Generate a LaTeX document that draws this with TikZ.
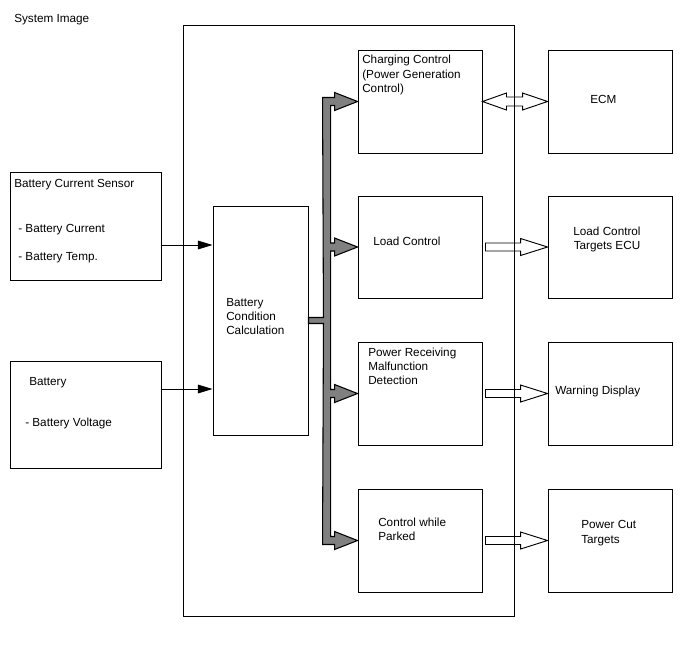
\documentclass[tikz,border=0pt]{standalone}
\usepackage{fontspec}
\setmainfont{Liberation Sans}
\usetikzlibrary{arrows.meta,calc,fit}
\begin{document}
\begin{tikzpicture}[x=0.75pt,y=-0.75pt,
  box/.style={draw=black,line width=0.7pt,inner sep=0pt,rectangle},
  lbl/.style={anchor=base west,inner sep=0pt,font=\fontsize{8.8}{10}\selectfont},
  clbl/.style={anchor=base,inner sep=0pt,font=\fontsize{8.8}{10}\selectfont},
  thinarrow/.style={line width=0.7pt,-{Triangle[length=11pt,width=6.5pt]}},
  hollow/.style={draw=black,line width=0.7pt,fill=none,line join=miter},
  bus/.style={draw=black,line width=0.8pt,fill=black!50,line join=miter}]
\useasboundingbox (0,0) rectangle (688,658);
\node[lbl] (title) at (14,22) {System Image};
% frame
\node[box,fit={(183,25) (514,616)}] (frame) {};
% left boxes
\node[box,fit={(10,172) (161,280)}] (bcs) {};
\node[box,fit={(10,361) (161,468)}] (bat) {};
\node[box,fit={(213,206) (308,435)}] (bcc) {};
% middle boxes
\node[box,fit={(358,50) (482,153)}] (cc) {};
\node[box,fit={(358,196) (482,298)}] (lc) {};
\node[box,fit={(358,342) (482,445)}] (pr) {};
\node[box,fit={(358,489) (482,592)}] (cp) {};
% right boxes
\node[box,fit={(548,50) (672,153)}] (ecm) {};
\node[box,fit={(548,196) (672,298)}] (lt) {};
\node[box,fit={(548,342) (672,445)}] (wd) {};
\node[box,fit={(548,489) (672,592)}] (pc) {};
% texts
\node[lbl] (bcs1) at (14,187) {Battery Current Sensor};
\node[lbl] (bcs2) at (18,232) {- Battery Current};
\node[lbl] (bcs3) at (18,260) {- Battery Temp.};
\node[lbl] (bat1) at (29,385) {Battery};
\node[lbl] (bat2) at (25,426) {- Battery Voltage};
\node[lbl] (bcc1) at (226,306) {Battery};
\node[lbl] (bcc2) at (226,320) {Condition};
\node[lbl] (bcc3) at (226,334) {Calculation};
\node[lbl] (cc1) at (362,63) {Charging Control};
\node[lbl] (cc2) at (362,78) {(Power Generation};
\node[lbl] (cc3) at (362,92) {Control)};
\node[lbl] (lc1) at (373,245) {Load Control};
\node[lbl] (pr1) at (368,356) {Power Receiving};
\node[lbl] (pr2) at (368,370) {Malfunction};
\node[lbl] (pr3) at (368,384) {Detection};
\node[lbl] (cp1) at (378,526) {Control while};
\node[lbl] (cp2) at (378,540) {Parked};
\node[lbl] (ecm1) at (590,103) {ECM};
\node[clbl] (lt1) at (607,235) {Load Control};
\node[clbl] (lt2) at (607,249) {Targets ECU};
\node[lbl] (wd1) at (555,394) {Warning Display};
\node[lbl] (pc1) at (581,528) {Power Cut};
\node[lbl] (pc2) at (581,543) {Targets};
% thin arrows
\draw[thinarrow] (bcs.east |- 0,245) -- (bcc.west |- 0,245);
\draw[thinarrow] (bat.east |- 0,389) -- (bcc.west |- 0,389);
% gray bus
\draw[bus]
  ($(cc.west)+(-35,-4)$) -- ($(cc.west)+(-23,-4)$) -- ($(cc.west)+(-23,-9)$) -- (cc.west)
  -- ($(cc.west)+(-23,9)$) -- ($(cc.west)+(-23,4)$) -- ($(cc.west)+(-27,4)$)
  -- ($(lc.west)+(-27,-4)$) -- ($(lc.west)+(-23,-4)$) -- ($(lc.west)+(-23,-9)$) -- (lc.west)
  -- ($(lc.west)+(-23,9)$) -- ($(lc.west)+(-23,4)$) -- ($(lc.west)+(-27,4)$)
  -- ($(pr.west)+(-27,-4)$) -- ($(pr.west)+(-23,-4)$) -- ($(pr.west)+(-23,-9)$) -- (pr.west)
  -- ($(pr.west)+(-23,9)$) -- ($(pr.west)+(-23,4)$) -- ($(pr.west)+(-27,4)$)
  -- ($(cp.west)+(-27,-4)$) -- ($(cp.west)+(-23,-4)$) -- ($(cp.west)+(-23,-9)$) -- (cp.west)
  -- ($(cp.west)+(-23,9)$) -- ($(cp.west)+(-23,4)$) -- ($(cp.west)+(-35,4)$)
  -- ($(bcc.east)+(15,3)$) -- ($(bcc.east)+(0,3)$) -- ($(bcc.east)+(0,-3)$) -- ($(bcc.east)+(15,-3)$)
  -- cycle;
% double hollow arrow to ECM
\draw[hollow]
  (cc.east) -- ($(cc.east)+(24,-8.5)$) -- ($(cc.east)+(24,-4.5)$) -- ($(ecm.west)+(-25,-4.5)$)
  -- ($(ecm.west)+(-25,-8.5)$) -- (ecm.west) -- ($(ecm.west)+(-25,8.5)$) -- ($(ecm.west)+(-25,4.5)$)
  -- ($(cc.east)+(24,4.5)$) -- ($(cc.east)+(24,8.5)$) -- cycle;
% single hollow arrows
\foreach \s/\t in {lc/lt,pr/wd,cp/pc}{
  \draw[hollow]
    ($(\s.east)+(3,-4)$) -- ($(\t.west)+(-27,-4)$) -- ($(\t.west)+(-27,-8.5)$) -- (\t.west)
    -- ($(\t.west)+(-27,8.5)$) -- ($(\t.west)+(-27,4)$) -- ($(\s.east)+(3,4)$) -- cycle;
}
\end{tikzpicture}
\end{document}
